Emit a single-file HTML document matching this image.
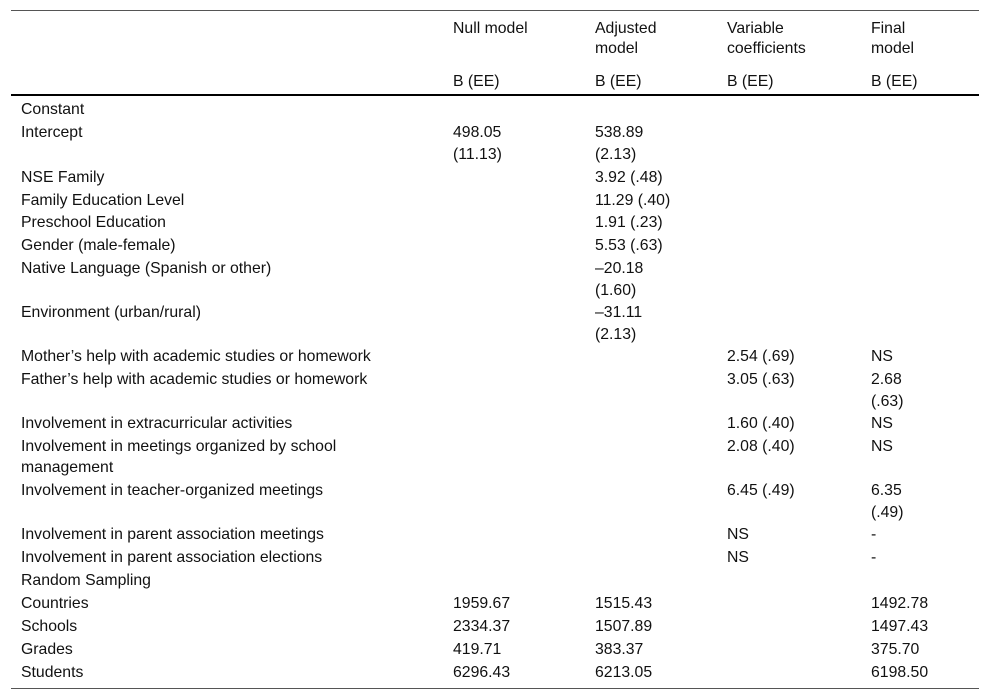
<!DOCTYPE html>
<html><head><meta charset="utf-8"><style>
body{margin:0;width:992px;height:700px;background:#fff;position:relative;font-family:"Liberation Sans",sans-serif;font-size:15.8px;color:#111;overflow:hidden}
.t{position:absolute;line-height:19px;white-space:nowrap}
.l{position:absolute;left:11px;width:968px}
</style></head><body>
<div class="l" style="top:10px;height:1px;background:#555"></div>
<div class="l" style="top:94px;height:2px;background:#000"></div>
<div class="l" style="top:688px;height:1px;background:#555"></div>
<div class="t" style="left:453px;top:19px">Null model</div>
<div class="t" style="left:595px;top:19px">Adjusted</div>
<div class="t" style="left:595px;top:39px">model</div>
<div class="t" style="left:727px;top:19px">Variable</div>
<div class="t" style="left:727px;top:39px">coefficients</div>
<div class="t" style="left:871px;top:19px">Final</div>
<div class="t" style="left:871px;top:39px">model</div>
<div class="t" style="left:453px;top:72px">B (EE)</div>
<div class="t" style="left:595px;top:72px">B (EE)</div>
<div class="t" style="left:727px;top:72px">B (EE)</div>
<div class="t" style="left:871px;top:72px">B (EE)</div>

<div class="t" style="left:21px;top:100px">Constant</div>
<div class="t" style="left:21px;top:123px">Intercept</div>
<div class="t" style="left:453px;top:123px">498.05</div>
<div class="t" style="left:453px;top:145px">(11.13)</div>
<div class="t" style="left:595px;top:123px">538.89</div>
<div class="t" style="left:595px;top:145px">(2.13)</div>
<div class="t" style="left:21px;top:168px">NSE Family</div>
<div class="t" style="left:595px;top:168px">3.92 (.48)</div>
<div class="t" style="left:21px;top:191px">Family Education Level</div>
<div class="t" style="left:595px;top:191px">11.29 (.40)</div>
<div class="t" style="left:21px;top:213px">Preschool Education</div>
<div class="t" style="left:595px;top:213px">1.91 (.23)</div>
<div class="t" style="left:21px;top:236px">Gender (male-female)</div>
<div class="t" style="left:595px;top:236px">5.53 (.63)</div>
<div class="t" style="left:21px;top:259px">Native Language (Spanish or other)</div>
<div class="t" style="left:595px;top:259px">–20.18</div>
<div class="t" style="left:595px;top:281px">(1.60)</div>
<div class="t" style="left:21px;top:303px">Environment (urban/rural)</div>
<div class="t" style="left:595px;top:303px">–31.11</div>
<div class="t" style="left:595px;top:325px">(2.13)</div>
<div class="t" style="left:21px;top:347px">Mother’s help with academic studies or homework</div>
<div class="t" style="left:727px;top:347px">2.54 (.69)</div>
<div class="t" style="left:871px;top:347px">NS</div>
<div class="t" style="left:21px;top:370px">Father’s help with academic studies or homework</div>
<div class="t" style="left:727px;top:370px">3.05 (.63)</div>
<div class="t" style="left:871px;top:370px">2.68</div>
<div class="t" style="left:871px;top:392px">(.63)</div>
<div class="t" style="left:21px;top:414px">Involvement in extracurricular activities</div>
<div class="t" style="left:727px;top:414px">1.60 (.40)</div>
<div class="t" style="left:871px;top:414px">NS</div>
<div class="t" style="left:21px;top:437px">Involvement in meetings organized by school</div>
<div class="t" style="left:21px;top:458px">management</div>
<div class="t" style="left:727px;top:437px">2.08 (.40)</div>
<div class="t" style="left:871px;top:437px">NS</div>
<div class="t" style="left:21px;top:481px">Involvement in teacher-organized meetings</div>
<div class="t" style="left:727px;top:481px">6.45 (.49)</div>
<div class="t" style="left:871px;top:481px">6.35</div>
<div class="t" style="left:871px;top:503px">(.49)</div>
<div class="t" style="left:21px;top:525px">Involvement in parent association meetings</div>
<div class="t" style="left:727px;top:525px">NS</div>
<div class="t" style="left:871px;top:525px">-</div>
<div class="t" style="left:21px;top:548px">Involvement in parent association elections</div>
<div class="t" style="left:727px;top:548px">NS</div>
<div class="t" style="left:871px;top:548px">-</div>
<div class="t" style="left:21px;top:571px">Random Sampling</div>
<div class="t" style="left:21px;top:594px">Countries</div>
<div class="t" style="left:453px;top:594px">1959.67</div>
<div class="t" style="left:595px;top:594px">1515.43</div>
<div class="t" style="left:871px;top:594px">1492.78</div>
<div class="t" style="left:21px;top:617px">Schools</div>
<div class="t" style="left:453px;top:617px">2334.37</div>
<div class="t" style="left:595px;top:617px">1507.89</div>
<div class="t" style="left:871px;top:617px">1497.43</div>
<div class="t" style="left:21px;top:640px">Grades</div>
<div class="t" style="left:453px;top:640px">419.71</div>
<div class="t" style="left:595px;top:640px">383.37</div>
<div class="t" style="left:871px;top:640px">375.70</div>
<div class="t" style="left:21px;top:663px">Students</div>
<div class="t" style="left:453px;top:663px">6296.43</div>
<div class="t" style="left:595px;top:663px">6213.05</div>
<div class="t" style="left:871px;top:663px">6198.50</div>
</body></html>
